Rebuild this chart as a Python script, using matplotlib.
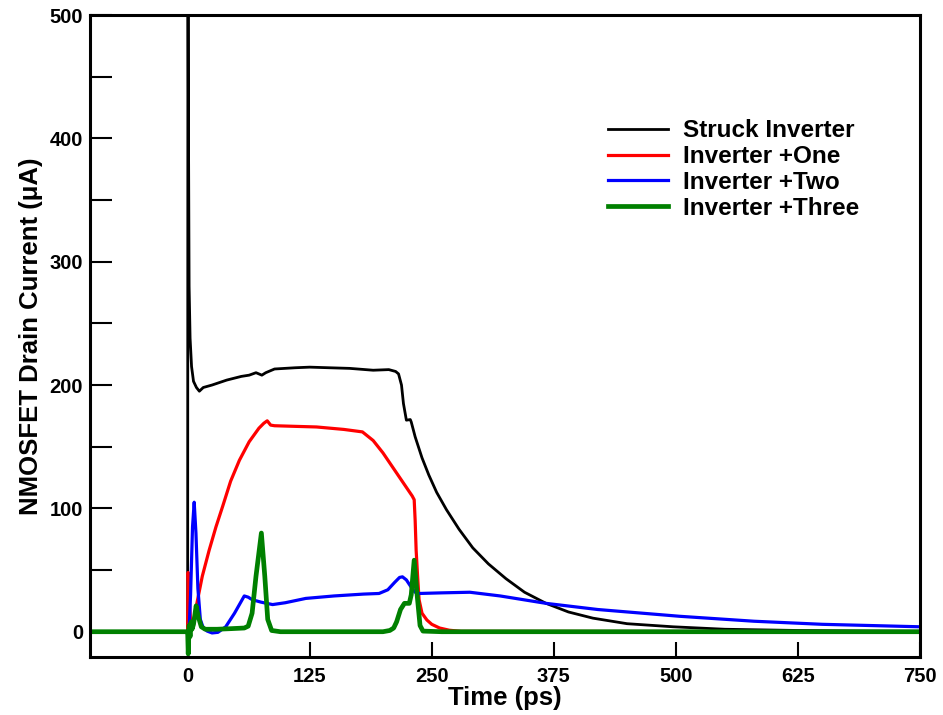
import matplotlib
matplotlib.use("Agg")
import matplotlib.pyplot as plt
from matplotlib.ticker import MultipleLocator

plt.rcParams['font.family'] = ['Liberation Sans', 'DejaVu Sans']
plt.rcParams['font.weight'] = 'bold'

# Struck Inverter
t_struck = [-100, -0.5, 0, 0.3, 0.8, 1.5, 2.5, 4, 6, 9, 12, 16, 25, 40, 55, 63, 70, 73, 76, 80, 89, 110, 125, 145, 166, 190, 206, 213, 216, 219, 221, 224, 228, 229, 233, 240, 247, 255, 265, 278, 292, 308, 326, 345, 367, 390, 415, 450, 497, 550, 625, 700, 750]
i_struck = [0, 0, 0, 620, 420, 280, 238, 215, 203, 198, 195, 198, 200, 204, 207, 208, 210, 209, 208, 210, 213, 214, 214.5, 214, 213.5, 212, 212.5, 211, 209, 200, 185, 171.5, 172, 170, 158, 141, 127, 113, 99, 83, 68, 55, 43, 32, 23, 16, 11, 6.5, 4, 2, 1, 0.5, 0.3]

# Inverter +One
t_one = [-100, -0.5, 0, 0.5, 1.5, 3, 5, 8.7, 15, 22, 29, 36, 44, 53, 63, 73, 78, 81.5, 85, 89, 110, 132, 160, 179, 190, 200, 212, 224, 230, 232, 233, 234, 235.5, 237, 240, 245, 250, 258, 268, 280, 750]
i_one = [0, 0, 0, 48, 30, 8, 3, 20, 45, 66, 85, 102, 122, 139, 154, 165, 169, 171, 167.5, 167, 166.5, 166, 164, 162, 155, 145, 131, 117, 110, 107, 90, 66, 45, 26, 15, 9.5, 6, 3, 1.2, 0.3, 0]

# Inverter +Two
t_two = [-100, 0, 1.5, 3, 5, 6.7, 8.5, 10.5, 13, 16, 20, 25, 31, 39, 48, 58, 62, 66, 75, 87, 100, 121, 150, 180, 196, 205, 212, 217, 220, 224, 229, 233, 237, 260, 289, 320, 367, 420, 504, 580, 650, 750]
i_two = [0, 0, 2, 30, 85, 105, 80, 35, 10, 3, 0.5, -1, -0.5, 4, 15, 29, 28, 26, 24, 22, 23.5, 27, 29, 30.5, 31, 34, 40, 44, 44.5, 42, 36, 32, 31, 31.5, 32, 29, 23, 18, 12.5, 8.5, 6, 4]

# Inverter +Three
t_three = [-100, -0.5, 0, 0.6, 1.5, 2.5, 3.5, 4.5, 6, 8.7, 11, 14, 18, 30, 45, 58, 62, 66, 70, 75.5, 79, 82, 86, 95, 150, 200, 207, 211, 214, 218, 222, 227, 229, 232, 235, 238, 241, 260, 750]
i_three = [0, 0, 0, -18, 5, -4, 8, 2, 6, 21, 12, 4, 2, 2, 2.5, 3, 4.5, 15, 45, 80, 45, 10, 1, 0, 0, 0, 1, 3, 8, 18, 23, 23, 30, 58, 30, 5, 0.5, 0, 0]

fig = plt.figure(figsize=(9.43, 7.15), dpi=100)
ax = fig.add_axes([90/943, 1 - 657/715, (920-90)/943, (657-15)/715])

ax.plot(t_struck, i_struck, color='black', lw=2.0, label='Struck Inverter')
ax.plot(t_one, i_one, color='red', lw=2.3, label='Inverter +One')
ax.plot(t_two, i_two, color='blue', lw=2.3, label='Inverter +Two')
ax.plot(t_three, i_three, color='#008000', lw=3.4, label='Inverter +Three')

ax.set_xlim(-100, 750)
ax.set_ylim(-20.5, 500)
ax.set_xticks([0, 125, 250, 375, 500, 625, 750])
ax.yaxis.set_major_locator(MultipleLocator(100))
ax.yaxis.set_minor_locator(MultipleLocator(50))
ax.tick_params(axis='both', which='both', direction='in', top=False, right=False,
               width=1.5, labelsize=14.5)
ax.tick_params(axis='x', which='major', length=11, pad=7)
ax.tick_params(axis='y', which='both', length=16, pad=5)
for lab in ax.get_xticklabels() + ax.get_yticklabels():
    lab.set_fontweight('bold')
for s in ax.spines.values():
    s.set_linewidth(2.2)

ax.set_xlabel('Time (ps)', fontsize=18.5, fontweight='bold', labelpad=0)
ax.set_ylabel('NMOSFET Drain Current (\u03bcA)', fontsize=18.5, fontweight='bold', labelpad=5)

leg = ax.legend(loc='upper left', bbox_to_anchor=(0.612, 0.853), frameon=False,
                prop={'size': 17.5, 'weight': 'bold'}, handlelength=2.5,
                handletextpad=0.6, labelspacing=0.12, borderaxespad=0)

fig.savefig('out.png', dpi=100)
